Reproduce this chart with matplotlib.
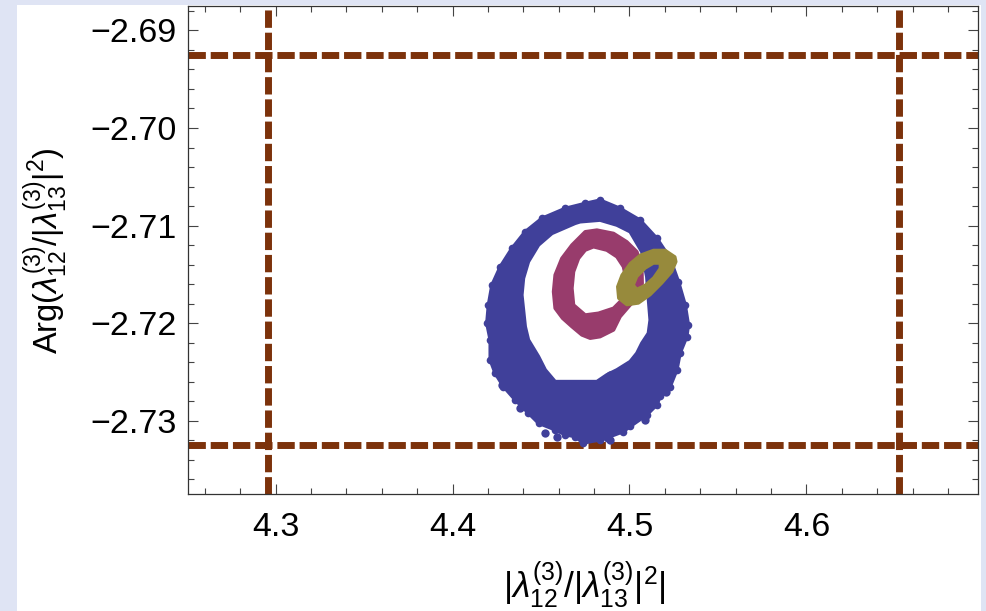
import matplotlib
matplotlib.use('Agg')
import matplotlib.pyplot as plt
from matplotlib.path import Path
from matplotlib.patches import PathPatch, Rectangle
from matplotlib.ticker import MultipleLocator
import numpy as np

plt.rcParams['font.family'] = ['Liberation Sans', 'DejaVu Sans']
plt.rcParams['mathtext.fontset'] = 'custom'
plt.rcParams['mathtext.rm'] = 'Liberation Sans'
plt.rcParams['mathtext.it'] = 'Liberation Sans:italic'

# allowed region (dashed bounds)
x_bounds = [4.2955, 4.6525]
y_bounds = [-2.69256, -2.73253]

# outer / inner edges of each scan band
blue_outer_x = [4.4834, 4.4947, 4.5060, 4.5155, 4.5230, 4.5277, 4.5315, 4.5333, 4.5324, 4.5286,
                4.5268, 4.5230, 4.5173, 4.5155, 4.5098, 4.5004, 4.4966, 4.4872, 4.4834, 4.4738,
                4.4693, 4.4637, 4.4580, 4.4486, 4.4429, 4.4354, 4.4288, 4.4241, 4.4213, 4.4213,
                4.4194, 4.4203, 4.4223, 4.4270, 4.4336, 4.4411, 4.4505, 4.4637, 4.4750]
blue_outer_y = [-2.70739, -2.70824, -2.70944, -2.71131, -2.71336, -2.71575, -2.71813, -2.72018, -2.72138, -2.72307,
                -2.72478, -2.72649, -2.72751, -2.72836, -2.72939, -2.73058, -2.73110, -2.73174, -2.73194, -2.73228,
                -2.73161, -2.73143, -2.73092, -2.73024, -2.72921, -2.72785, -2.72649, -2.72512, -2.72376, -2.72171,
                -2.72001, -2.71813, -2.71609, -2.71421, -2.71233, -2.71063, -2.70926, -2.70824, -2.70773]
blue_inner_x = [4.4721, 4.4834, 4.4929, 4.5004, 4.5070, 4.5098, 4.5107, 4.5117, 4.5107, 4.5070,
                4.5042, 4.5004, 4.4929, 4.4872, 4.4816, 4.4721, 4.4580, 4.4524, 4.4486, 4.4429,
                4.4411, 4.4392, 4.4401, 4.4429, 4.4486, 4.4562, 4.4693]
blue_inner_y = [-2.70961, -2.70944, -2.70995, -2.71063, -2.71268, -2.71524, -2.71745, -2.71967, -2.72103, -2.72205,
                -2.72307, -2.72393, -2.72478, -2.72529, -2.72598, -2.72598, -2.72598, -2.72478, -2.72342, -2.72171,
                -2.72035, -2.71711, -2.71540, -2.71370, -2.71199, -2.71080, -2.70977]
# loose points sitting outside the blue band
blue_dots_x = [4.4738, 4.4592, 4.4524, 4.5207, 4.5089, 4.4891, 4.4279, 4.4383, 4.4891]
blue_dots_y = [-2.73207, -2.73164, -2.73123, -2.72710, -2.72990, -2.73194, -2.72632, -2.72867, -2.72529]

magenta_outer_x = [4.4816, 4.4910, 4.4985, 4.5042, 4.5070, 4.5072, 4.5060, 4.5004, 4.4947, 4.4910,
                   4.4834, 4.4778, 4.4731, 4.4675, 4.4622, 4.4580, 4.4571, 4.4580, 4.4618, 4.4675, 4.4750]
magenta_outer_y = [-2.71046, -2.71080, -2.71166, -2.71268, -2.71421, -2.71591, -2.71711, -2.71813, -2.71933, -2.72069,
                   -2.72138, -2.72154, -2.72120, -2.72035, -2.71949, -2.71847, -2.71677, -2.71506, -2.71336, -2.71199, -2.71063]
magenta_inner_x = [4.4797, 4.4872, 4.4929, 4.4966, 4.4985, 4.4966, 4.4910, 4.4825, 4.4750, 4.4684,
                   4.4675, 4.4684, 4.4712, 4.4750]
magenta_inner_y = [-2.71217, -2.71251, -2.71319, -2.71421, -2.71575, -2.71745, -2.71847, -2.71898, -2.71916, -2.71813,
                   -2.71642, -2.71473, -2.71336, -2.71251]

olive_outer_x = [4.5202, 4.5258, 4.5264, 4.5240, 4.5183, 4.5117, 4.5051, 4.4985, 4.4938, 4.4932,
                 4.4957, 4.5004, 4.5060, 4.5136]
olive_outer_y = [-2.71251, -2.71319, -2.71370, -2.71473, -2.71591, -2.71711, -2.71796, -2.71813, -2.71745, -2.71626,
                 -2.71506, -2.71387, -2.71302, -2.71251]
olive_inner_x = [4.5173, 4.5173, 4.5136, 4.5089, 4.5042, 4.5023, 4.5042, 4.5089, 4.5136]
olive_inner_y = [-2.71387, -2.71438, -2.71534, -2.71609, -2.71650, -2.71609, -2.71524, -2.71438, -2.71387]

blue = '#40409a'
magenta = '#983c6c'
olive = '#978a3c'
brown = '#7c320b'


def signed_area(x, y):
    x = np.asarray(x); y = np.asarray(y)
    return 0.5 * np.sum(x * np.roll(y, -1) - np.roll(x, -1) * y)


def band(ax, ox, oy, ix, iy, color, z, lw=2.5):
    # ring = outer loop + reversed inner loop
    if np.sign(signed_area(ox, oy)) == np.sign(signed_area(ix, iy)):
        ix, iy = ix[::-1], iy[::-1]
    verts = list(zip(ox, oy)) + [(ox[0], oy[0])] + list(zip(ix, iy)) + [(ix[0], iy[0])]
    codes = ([Path.MOVETO] + [Path.LINETO] * (len(ox) - 1) + [Path.CLOSEPOLY] +
             [Path.MOVETO] + [Path.LINETO] * (len(ix) - 1) + [Path.CLOSEPOLY])
    patch = PathPatch(Path(verts, codes), facecolor=color, edgecolor=color,
                      lw=lw, joinstyle='round', zorder=z)
    ax.add_patch(patch)


fig = plt.figure(figsize=(9.86, 6.11), dpi=100, facecolor='#dfe4f4')
fig.patches.append(Rectangle((17 / 986, 0), 964 / 986, 606 / 611, transform=fig.transFigure,
                             facecolor='white', edgecolor='none', zorder=-10))

ax = fig.add_axes([188 / 986, 117 / 611, 790 / 986, 488 / 611])
ax.set_xlim(4.2505, 4.697)
ax.set_ylim(-2.7375, -2.6875)

for xv in x_bounds:
    ax.axvline(xv, color=brown, lw=5, dashes=(2.5, 0.7), zorder=1)
for yv in y_bounds:
    ax.axhline(yv, color=brown, lw=5, dashes=(2.5, 0.7), zorder=1)

band(ax, blue_outer_x, blue_outer_y, blue_inner_x, blue_inner_y, blue, 2)
# dotted rim of the blue band
ax.plot(blue_outer_x, blue_outer_y, 'o', color=blue, ms=5.5, mew=0, zorder=2)
ax.plot(blue_dots_x, blue_dots_y, 'o', color=blue, ms=6, mew=0, zorder=2)
band(ax, magenta_outer_x, magenta_outer_y, magenta_inner_x, magenta_inner_y, magenta, 3)
band(ax, olive_outer_x, olive_outer_y, olive_inner_x, olive_inner_y, olive, 4, lw=2.0)

ax.xaxis.set_major_locator(MultipleLocator(0.1))
ax.xaxis.set_minor_locator(MultipleLocator(0.02))
ax.yaxis.set_major_locator(MultipleLocator(0.01))
ax.yaxis.set_minor_locator(MultipleLocator(0.002))
ax.tick_params(which='both', direction='in', top=True, right=True, color='#444444', width=0.8)
ax.tick_params(which='major', length=7.5)
ax.tick_params(which='minor', length=4.5)
ax.tick_params(axis='x', labelsize=24.5, pad=13)
ax.tick_params(axis='y', labelsize=24.5, pad=8)
ax.xaxis.set_major_formatter(plt.FuncFormatter(lambda v, p: f'{v:.1f}'))
ax.yaxis.set_major_formatter(plt.FuncFormatter(lambda v, p: f'{v:.2f}'.replace('-', '\u2212')))
for s in ax.spines.values():
    s.set_color('#333333')
    s.set_linewidth(0.9)

fig.text(584 / 986, 13 / 611, r'$|\lambda_{12}^{(3)}/|\lambda_{13}^{(3)}|^{2}|$',
         fontsize=25.5, ha='center', va='baseline')
fig.text(58 / 986, 360 / 611, r'$\mathrm{Arg}(\lambda_{12}^{(3)}/|\lambda_{13}^{(3)}|^{2})$',
         fontsize=23.5, rotation=90, rotation_mode='anchor', ha='center', va='baseline')

fig.savefig('out.png', dpi=100, facecolor=fig.get_facecolor())
